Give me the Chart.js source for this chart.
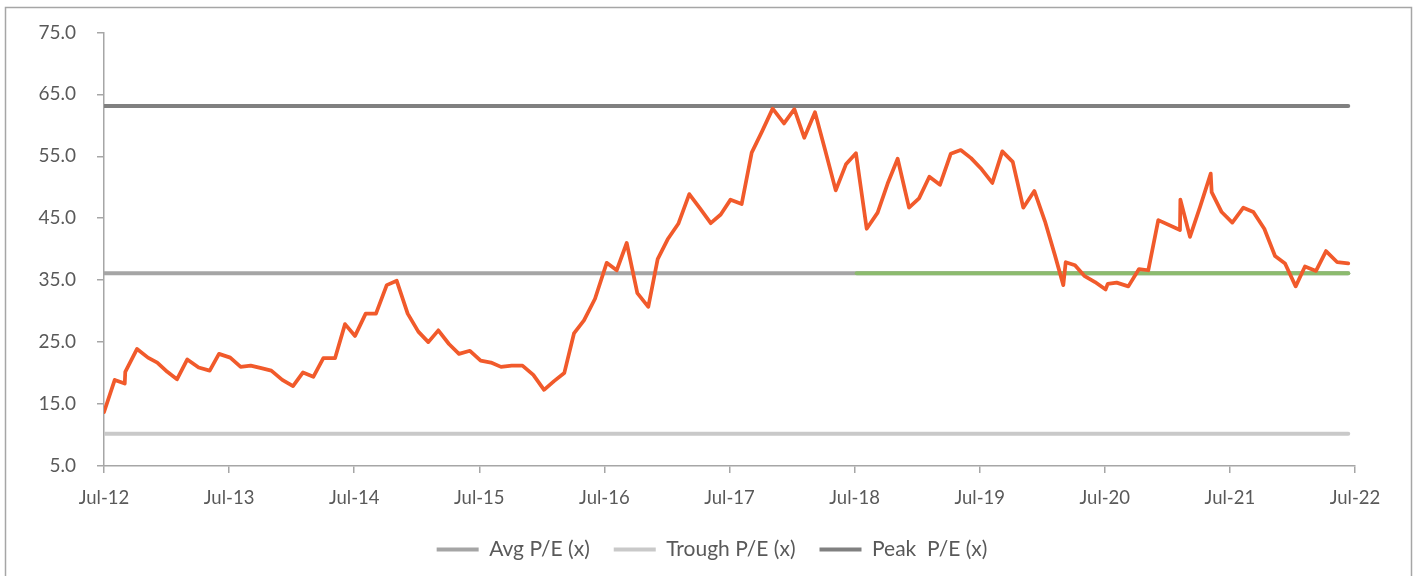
<!DOCTYPE html>
<html>
<head>
<meta charset="utf-8">
<title>P/E band</title>
<script src="https://cdn.jsdelivr.net/npm/chart.js@4"></script>
<style>
  html, body { margin: 0; padding: 0; background: #ffffff; }
  #wrap { position: relative; width: 1416px; height: 576px; }
</style>
</head>
<body>
<div id="wrap"><canvas id="pe"></canvas></div>
<script>
// Months elapsed since Jul-2012 for each observation
const monthOffsets = [
  0, 1.03, 1.99, 2.04, 3.17, 4.22, 5.11, 6.07, 7.0, 7.99,
  9.08, 10.14, 11.03, 12.11, 13.11, 14.07, 15.09, 16.05, 17.1, 18.13,
  19.09, 20.08, 21.04, 22.16, 23.12, 24.08, 25.1, 26.09, 27.12, 28.08,
  29.13, 30.15, 31.11, 32.07, 33.09, 34.05, 35.1, 36.13, 37.12, 38.08,
  39.11, 40.14, 41.18, 42.21, 43.17, 44.15, 45.08, 46.04, 47.1, 48.22,
  49.18, 50.14, 51.16, 52.21, 53.11, 54.07, 55.09, 56.14, 57.17, 58.2,
  59.16, 60.1, 61.17, 62.13, 63.09, 64.14, 65.23, 66.22, 67.17, 68.2,
  69.16, 70.19, 71.17, 72.13, 73.16, 74.21, 75.17, 76.13, 77.22, 78.18,
  79.17, 80.19, 81.22, 82.18, 83.17, 84.19, 85.21, 86.17, 87.17, 88.18,
  89.24, 90.26, 91.22, 92.02, 92.25, 93.14, 94.03, 95.06, 96.08, 96.28,
  97.14, 98.26, 99.28, 100.17, 101.13, 103.21, 103.25, 104.17, 105.13, 106.16,
  106.25, 107.21, 108.23, 109.29, 110.25, 111.3, 112.33, 113.29, 114.31, 115.2,
  116.26, 117.22, 118.3, 119.35
];

// One-year-forward P/E (x)
const peValues = [
  13.7, 18.9, 18.3, 20.2, 23.9, 22.5, 21.7, 20.2, 19.0, 22.2,
  20.9, 20.4, 23.1, 22.5, 21.0, 21.2, 20.8, 20.4, 18.9, 17.9,
  20.1, 19.4, 22.4, 22.4, 27.9, 26.0, 29.6, 29.6, 34.2, 34.9,
  29.6, 26.7, 25.0, 26.9, 24.7, 23.1, 23.6, 22.0, 21.7, 21.0,
  21.2, 21.2, 19.7, 17.3, 18.7, 20.0, 26.4, 28.5, 32.0, 37.8,
  36.6, 41.0, 32.9, 30.7, 38.4, 41.6, 44.1, 48.9, 46.6, 44.2,
  45.6, 48.0, 47.3, 55.6, 58.9, 62.7, 60.3, 62.6, 58.0, 62.1,
  56.1, 49.5, 53.7, 55.5, 43.3, 45.9, 50.6, 54.6, 46.7, 48.2,
  51.7, 50.4, 55.4, 56.0, 54.7, 52.9, 50.7, 55.8, 54.1, 46.7,
  49.4, 44.5, 39.0, 34.2, 37.9, 37.4, 35.7, 34.7, 33.5, 34.4,
  34.6, 34.0, 36.8, 36.6, 44.7, 43.1, 48.0, 42.0, 46.8, 52.2,
  49.2, 46.0, 44.3, 46.7, 46.0, 43.3, 38.9, 37.7, 34.0, 37.2,
  36.5, 39.7, 37.9, 37.7
];

// Band levels (x)
const avgPE = 36.1;
const troughPE = 10.2;
const peakPE = 63.1;
const recentAvgStart = 72.2;   // months after Jul-12 where the recent average begins

const xTickLabels = ['Jul-12', 'Jul-13', 'Jul-14', 'Jul-15', 'Jul-16', 'Jul-17',
                     'Jul-18', 'Jul-19', 'Jul-20', 'Jul-21', 'Jul-22'];
const yTicks = [5, 15, 25, 35, 45, 55, 65, 75];

const seriesNames = ['P/E (x)', 'Recent avg P/E (x)', 'Avg P/E (x)', 'Trough P/E (x)', 'Peak  P/E (x)'];
const seriesColors = ['#F15A2B', '#8CBB6E', '#A5A5A5', '#C9C9C9', '#808080'];

const firstX = monthOffsets[0];
const lastX = monthOffsets[monthOffsets.length - 1];
const flat = (x0, x1, v) => [{ x: x0, y: v }, { x: x1, y: v }];

const peSeries = monthOffsets.map((m, i) => ({ x: m, y: peValues[i] }));

const AXIS_COLOR = '#A6A6A6';
const TEXT_COLOR = '#595959';
const FONT = 'Lato, "Open Sans", sans-serif';

const PLOT = { left: 104, right: 1355, top: 32, bottom: 466 };
const PAD_BOTTOM = 6;
const PAD_LEFT = 8;    // with the right-hand spacer this centres the legend in the frame

const framePlugin = {
  id: 'frame',
  beforeDraw(chart) {
    const ctx = chart.ctx;
    ctx.save();
    ctx.fillStyle = '#ffffff';
    ctx.fillRect(0, 0, chart.width, chart.height);
    ctx.strokeStyle = '#A6A6A6';
    ctx.lineWidth = 1.5;
    ctx.strokeRect(5.5, 7.5, 1406, chart.height + 20);
    ctx.restore();
  }
};

function lineSet(idx, data, width) {
  return {
    label: seriesNames[idx],
    data: data,
    borderColor: seriesColors[idx],
    backgroundColor: seriesColors[idx],
    borderWidth: width,
    borderCapStyle: 'round',
    borderJoinStyle: 'round',
    pointRadius: 0,
    pointHoverRadius: 0,
    tension: 0,
    fill: false
  };
}

const datasets = [
  lineSet(0, peSeries, 3.75),
  lineSet(1, flat(recentAvgStart, lastX, avgPE), 4),
  lineSet(2, flat(firstX, lastX, avgPE), 4),
  lineSet(3, flat(firstX, lastX, troughPE), 4),
  lineSet(4, flat(firstX, lastX, peakPE), 4)
];
datasets[0].inLegend = false;
datasets[1].inLegend = false;

new Chart(document.getElementById('pe'), {
  type: 'line',
  data: { datasets },
  plugins: [framePlugin],
  options: {
    responsive: true,
    maintainAspectRatio: false,
    devicePixelRatio: 1,
    animation: false,
    events: [],
    layout: {
      padding: { top: PLOT.top, left: PAD_LEFT, right: 0, bottom: PAD_BOTTOM }
    },
    plugins: {
      tooltip: { enabled: false },
      title: { display: false },
      legend: {
        position: 'bottom',
        labels: {
          color: TEXT_COLOR,
          font: { family: FONT, size: 21 },
          boxWidth: 42,
          boxHeight: 4,
          padding: 24,
          filter: (item, data) => data.datasets[item.datasetIndex].inLegend !== false,
          generateLabels(chart) {
            const items = Chart.defaults.plugins.legend.labels.generateLabels(chart);
            items.forEach(it => {
              const c = seriesColors[it.datasetIndex];
              it.fillStyle = c;
              it.strokeStyle = c;
              it.lineWidth = 0;
            });
            return items;
          }
        }
      }
    },
    scales: {
      x: {
        type: 'linear',
        min: 0,
        max: 120,
        afterBuildTicks(scale) {
          scale.ticks = xTickLabels.map((_, i) => ({ value: i * 12 }));
        },
        afterFit(scale) {
          const legendH = scale.chart.legend ? scale.chart.legend.height : 0;
          scale.height = scale.chart.height - PAD_BOTTOM - legendH - PLOT.bottom;
        },
        ticks: {
          color: TEXT_COLOR,
          font: { family: FONT, size: 18.5 },
          padding: 14,
          maxRotation: 0,
          autoSkip: false,
          callback: (v) => xTickLabels[Math.round(v / 12)]
        },
        grid: { drawOnChartArea: false, drawTicks: true, tickLength: 7, color: AXIS_COLOR, lineWidth: 1.5 },
        border: { display: true, color: AXIS_COLOR, width: 1.5 }
      },
      y: {
        min: 5,
        max: 75,
        afterBuildTicks(scale) {
          scale.ticks = yTicks.map(v => ({ value: v }));
        },
        afterFit(scale) {
          scale.width = PLOT.left - PAD_LEFT;
        },
        ticks: {
          color: TEXT_COLOR,
          font: { family: FONT, size: 19 },
          padding: 21,
          callback: (v) => Number(v).toFixed(1)
        },
        grid: { drawOnChartArea: false, drawTicks: true, tickLength: 7, color: AXIS_COLOR, lineWidth: 1.5 },
        border: { display: true, color: AXIS_COLOR, width: 1.5 }
      },
      // empty right-hand spacer that reserves the margin to the right of the plot
      spacer: {
        type: 'linear',
        position: 'right',
        display: true,
        min: 0,
        max: 1,
        afterFit(scale) {
          scale.width = 1416 - PLOT.right;
        },
        ticks: { display: false },
        grid: { display: false, drawTicks: false },
        border: { display: false }
      }
    }
  }
});
</script>
</body>
</html>
